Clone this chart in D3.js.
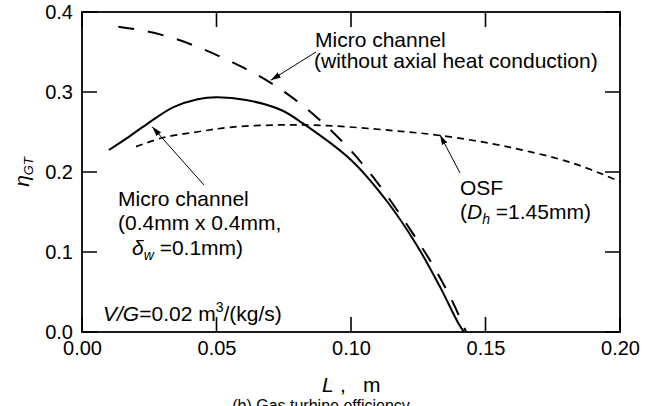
<!DOCTYPE html>
<html>
<head>
<meta charset="utf-8">
<script src="https://cdn.jsdelivr.net/npm/d3@7"></script>
<style>
  html, body { margin: 0; padding: 0; background: #fff; }
  svg { display: block; }
  text { font-family: "Liberation Sans", Arial, Helvetica, sans-serif; fill: #000; }
</style>
</head>
<body>
<svg id="chart" width="656" height="406"></svg>
<script>
// Gas turbine efficiency vs. heat exchanger length L
const xTicks = [0.00, 0.05, 0.10, 0.15, 0.20];
const yTicks = [0.0, 0.1, 0.2, 0.3, 0.4];

// Micro channel (0.4mm x 0.4mm, δw = 0.1mm) — solid
const microL   = [0.010, 0.017, 0.024, 0.034, 0.043, 0.050, 0.061, 0.074, 0.082, 0.100, 0.113, 0.124, 0.133, 0.1399, 0.142];
const microEta = [0.2275, 0.243, 0.2596, 0.281, 0.291, 0.2934, 0.290, 0.2775, 0.261, 0.215, 0.165, 0.111, 0.057, 0.011, 0.0];

// Micro channel without axial heat conduction — long dashes
const noAxL   = [0.0135, 0.0228, 0.0342, 0.0451, 0.0562, 0.0674, 0.0786, 0.0897, 0.1003, 0.1095, 0.1213, 0.1300, 0.1370, 0.1428];
const noAxEta = [0.3817, 0.3767, 0.367, 0.3534, 0.3366, 0.317, 0.292, 0.261, 0.2254, 0.188, 0.1317, 0.086, 0.043, 0.0];

// Offset strip fin (Dh = 1.45mm) — short dashes
const osfL   = [0.0201, 0.0302, 0.0426, 0.055, 0.0736, 0.091, 0.1157, 0.1335, 0.1579, 0.1826, 0.200];
const osfEta = [0.2317, 0.243, 0.250, 0.2559, 0.2588, 0.258, 0.2517, 0.2455, 0.2317, 0.2109, 0.188];

const svg = d3.select("#chart");
const plotLeft = 82, plotRight = 620, plotTop = 12, plotBottom = 332;

const x = d3.scaleLinear().domain([0, 0.2]).range([plotLeft, plotRight]);
const y = d3.scaleLinear().domain([0, 0.4]).range([plotBottom, plotTop]);

const tickLen = 15;

// tick labels from the library's axes
const gB = svg.append("g").attr("transform", `translate(0,${plotBottom})`)
  .call(d3.axisBottom(x).tickValues(xTicks).tickFormat(d3.format(".2f"))
        .tickSize(0).tickPadding(9));
const gL = svg.append("g").attr("transform", `translate(${plotLeft},0)`)
  .call(d3.axisLeft(y).tickValues(yTicks).tickFormat(d3.format(".1f"))
        .tickSize(0).tickPadding(9));

[gB, gL].forEach(g => {
  g.select(".domain").remove();
  g.selectAll(".tick line").remove();
  g.selectAll(".tick text").attr("font-size", 20).attr("fill", "#000")
    .attr("font-family", "'Liberation Sans', Arial, sans-serif");
});

// plot frame
svg.append("rect")
  .attr("x", plotLeft).attr("y", plotTop)
  .attr("width", plotRight - plotLeft).attr("height", plotBottom - plotTop)
  .attr("fill", "none").attr("stroke", "#000").attr("stroke-width", 1.8);

// inward tick marks on all four sides
const tp = d3.path();
xTicks.forEach(v => {
  tp.moveTo(x(v), plotBottom); tp.lineTo(x(v), plotBottom - tickLen);
  tp.moveTo(x(v), plotTop);    tp.lineTo(x(v), plotTop + tickLen);
});
yTicks.forEach(v => {
  tp.moveTo(plotLeft, y(v));  tp.lineTo(plotLeft + tickLen, y(v));
  tp.moveTo(plotRight, y(v)); tp.lineTo(plotRight - tickLen, y(v));
});
svg.append("path").attr("class", "tickmarks").attr("d", tp.toString())
  .attr("fill", "none").attr("stroke", "#000").attr("stroke-width", 1.6);

// curves
const line = d3.line().x(d => x(d[0])).y(d => y(d[1])).curve(d3.curveCatmullRom.alpha(0.5));
const zip = (a, b) => a.map((v, i) => [v, b[i]]);

svg.append("path").datum(zip(noAxL, noAxEta))
  .attr("d", line).attr("fill", "none").attr("stroke", "#000")
  .attr("stroke-width", 2).attr("stroke-dasharray", "16,14");

svg.append("path").datum(zip(osfL, osfEta))
  .attr("d", line).attr("fill", "none").attr("stroke", "#000")
  .attr("stroke-width", 1.7).attr("stroke-dasharray", "7,5");

svg.append("path").datum(zip(microL, microEta))
  .attr("d", line).attr("fill", "none").attr("stroke", "#000")
  .attr("stroke-width", 2);

// arrowhead marker
svg.append("defs").append("marker")
  .attr("id", "arrow").attr("viewBox", "-10 -4 11 8")
  .attr("refX", 0).attr("refY", 0)
  .attr("markerUnits", "userSpaceOnUse")
  .attr("markerWidth", 11).attr("markerHeight", 8)
  .attr("orient", "auto")
  .append("path").attr("d", "M0,0 L-10,-3 L-10,3 Z").attr("fill", "#000");

function leader(x1, y1, x2, y2) {
  svg.append("line").attr("x1", x1).attr("y1", y1).attr("x2", x2).attr("y2", y2)
    .attr("stroke", "#000").attr("stroke-width", 1)
    .attr("marker-end", "url(#arrow)");
}

const fs = 21;

// annotation: without axial heat conduction
svg.append("text").attr("x", 315).attr("y", 47).attr("font-size", fs).text("Micro channel");
svg.append("text").attr("x", 314).attr("y", 68).attr("font-size", fs).text("(without axial heat conduction)");
leader(316, 52, x(0.0702), y(0.3148));

// annotation: micro channel
svg.append("text").attr("x", 118).attr("y", 206).attr("font-size", fs).text("Micro channel");
svg.append("text").attr("x", 118).attr("y", 230).attr("font-size", fs).text("(0.4mm x 0.4mm,");
const t3 = svg.append("text").attr("x", 132).attr("y", 255).attr("font-size", fs);
t3.append("tspan").attr("font-style", "italic").text("δ");
t3.append("tspan").attr("font-style", "italic").attr("font-size", 14).attr("dy", 5).text("w");
t3.append("tspan").attr("dy", -5).text(" =0.1mm)");
leader(204, 185, x(0.0261), y(0.2565));

// annotation: OSF
svg.append("text").attr("x", 460).attr("y", 195).attr("font-size", fs).text("OSF");
const t4 = svg.append("text").attr("x", 460).attr("y", 219).attr("font-size", fs);
t4.append("tspan").text("(");
t4.append("tspan").attr("font-style", "italic").text("D");
t4.append("tspan").attr("font-style", "italic").attr("font-size", 14).attr("dy", 5).text("h");
t4.append("tspan").attr("dy", -5).text(" =1.45mm)");
leader(460, 173, x(0.1331), y(0.2463));

// operating condition
const t5 = svg.append("text").attr("x", 103).attr("y", 321).attr("font-size", fs);
t5.append("tspan").attr("font-style", "italic").text("V/G");
t5.append("tspan").text("=0.02 m");
t5.append("tspan").attr("font-size", 14).attr("dy", -9).text("3");
t5.append("tspan").attr("dy", 9).text("/(kg/s)");

// axis titles
const yl = svg.append("text").attr("transform", "translate(29,172) rotate(-90)")
  .attr("text-anchor", "middle").attr("font-size", 21);
yl.append("tspan").attr("font-style", "italic").text("η");
yl.append("tspan").attr("font-style", "italic").attr("font-size", 13).attr("dy", 4).text("GT");

const xl = svg.append("text").attr("x", 322).attr("y", 392).attr("font-size", 21);
xl.append("tspan").attr("font-style", "italic").text("L");
xl.append("tspan").attr("x", 340).text(",");
xl.append("tspan").attr("x", 363).text("m");

// figure caption
svg.append("text").attr("x", 321).attr("y", 411).attr("text-anchor", "middle")
  .attr("font-family", "'Liberation Serif', 'Times New Roman', serif")
  .attr("font-size", 16).text("(b)  Gas turbine efficiency");
</script>
</body>
</html>
